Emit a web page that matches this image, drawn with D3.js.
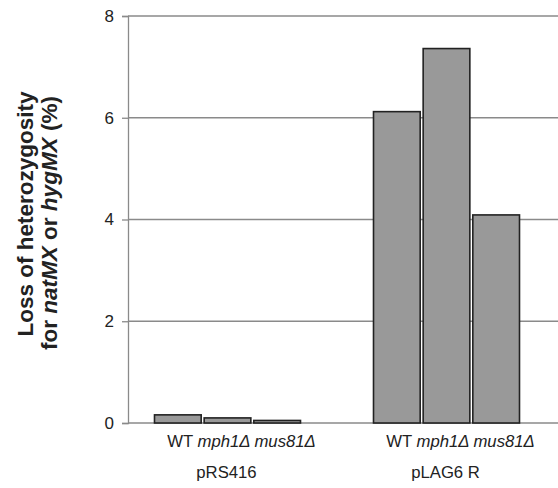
<!DOCTYPE html>
<html>
<head>
<meta charset="utf-8">
<script src="https://cdn.jsdelivr.net/npm/d3@7"></script>
<style>
  body { margin: 0; background: #fff; }
  svg { display: block; font-family: "Liberation Sans", Arial, sans-serif; }
</style>
</head>
<body>
<svg id="svg" width="558" height="488"></svg>
<script>
// data
const plasmids = ["pRS416", "pLAG6 R"];
const strains = ["WT", "mph1Δ", "mus81Δ"];
const pRS416Values = [0.16, 0.1, 0.05];
const pLAG6Values = [6.12, 7.36, 4.09];
const yTicks = [0, 2, 4, 6, 8];

const seriesByPlasmid = [pRS416Values, pLAG6Values];
const rows = plasmids.map((p, i) => ({
  plasmid: p,
  bars: strains.map((s, j) => ({ strain: s, value: seriesByPlasmid[i][j] }))
}));

const svg = d3.select("#svg");
const plotLeft = 128, plotRight = 558, plotTop = 16, plotBottom = 423;

const y = d3.scaleLinear().domain([0, 8]).range([plotBottom, plotTop]);
const x0 = d3.scaleBand().domain(plasmids).range([118, 556]);
const x1 = d3.scaleBand().domain(strains).range([-73, 73]).paddingInner(0.06);

// gridlines
svg.append("g")
  .selectAll("line")
  .data(yTicks.filter(d => d > 0))
  .join("line")
  .attr("x1", plotLeft)
  .attr("x2", plotRight)
  .attr("y1", d => y(d))
  .attr("y2", d => y(d))
  .attr("stroke", "#8a8a8a")
  .attr("stroke-width", 1.3);

// y axis
const yAxis = svg.append("g")
  .attr("transform", `translate(${plotLeft},0)`)
  .call(d3.axisLeft(y).tickValues(yTicks).tickSize(6).tickPadding(8).tickFormat(d3.format("d")));
yAxis.select(".domain").attr("stroke", "#8a8a8a").attr("stroke-width", 1.3);
yAxis.selectAll(".tick line").attr("stroke", "#8a8a8a").attr("stroke-width", 1.3);
yAxis.selectAll(".tick text")
  .attr("font-size", 17)
  .attr("font-family", "Liberation Sans, Arial, sans-serif")
  .attr("fill", "#222");

// baseline
svg.append("line")
  .attr("x1", plotLeft).attr("x2", plotRight)
  .attr("y1", y(0)).attr("y2", y(0))
  .attr("stroke", "#8a8a8a")
  .attr("stroke-width", 1.3);

// bars
const groups = svg.append("g")
  .selectAll("g")
  .data(rows)
  .join("g")
  .attr("transform", d => `translate(${x0(d.plasmid) + x0.bandwidth() / 2},0)`);

groups.selectAll("rect")
  .data(d => d.bars)
  .join("rect")
  .attr("x", d => x1(d.strain))
  .attr("width", x1.bandwidth())
  .attr("y", d => y(d.value))
  .attr("height", d => y(0) - y(d.value))
  .attr("fill", "#999999")
  .attr("stroke", "#222")
  .attr("stroke-width", 1.6);

// category labels
const strainLine = groups.append("text")
  .attr("x", 14)
  .attr("y", 447)
  .attr("text-anchor", "middle")
  .attr("font-size", 16.7)
  .attr("fill", "#222");
strainLine.append("tspan").text("WT ");
strainLine.append("tspan").attr("font-style", "italic").text("mph1Δ mus81Δ");

groups.append("text")
  .attr("x", -1)
  .attr("y", 478)
  .attr("text-anchor", "middle")
  .attr("font-size", 16.7)
  .attr("fill", "#222")
  .text(d => d.plasmid);

// y axis title, two lines
svg.append("text")
  .attr("transform", "translate(33,214) rotate(-90)")
  .attr("text-anchor", "middle")
  .attr("font-size", 22.5)
  .attr("font-weight", "bold")
  .attr("fill", "#222")
  .text("Loss of heterozygosity");

const t2 = svg.append("text")
  .attr("transform", "translate(57,223) rotate(-90)")
  .attr("text-anchor", "middle")
  .attr("font-size", 22.5)
  .attr("font-weight", "bold")
  .attr("fill", "#222");
t2.append("tspan").text("for ");
t2.append("tspan").attr("font-style", "italic").text("natMX");
t2.append("tspan").text(" or ");
t2.append("tspan").attr("font-style", "italic").text("hygMX");
t2.append("tspan").text(" (%)");
</script>
</body>
</html>
